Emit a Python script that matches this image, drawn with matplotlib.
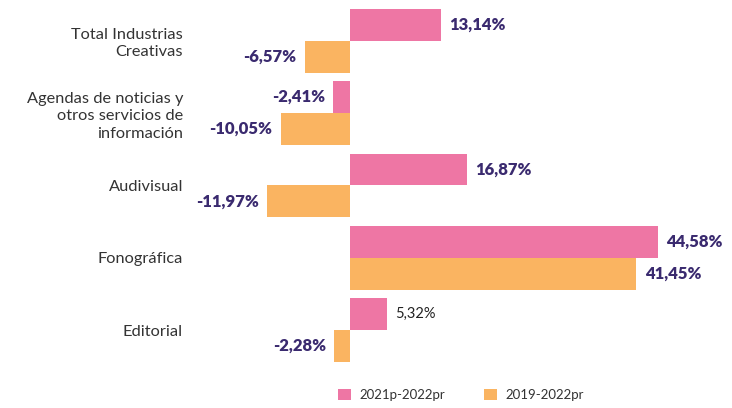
import numpy as np
import matplotlib.pyplot as plt

# Data
categorias = ["Total Industrias\nCreativas",
              "Agendas de noticias y\notros servicios de\ninformación",
              "Audivisual",
              "Fonográfica",
              "Editorial"]
var_2021_2022 = [13.14, -2.41, 16.87, 44.58, 5.32]
var_2019_2022 = [-6.57, -10.05, -11.97, 41.45, -2.28]
serie_1 = "2021p-2022pr"
serie_2 = "2019-2022pr"

rosa = "#EE76A4"
naranja = "#FAB461"
morado = "#3A2A6F"

plt.rcParams['font.family'] = ['Lato', 'DejaVu Sans']

fig = plt.figure(figsize=(7.32, 4.08), dpi=100)
ax = fig.add_axes([190 / 732, 0.102, 1 - 190 / 732, 0.887])

ind = np.arange(len(categorias))
h = 0.44
ax.barh(ind - h / 2, var_2021_2022, height=h, color=rosa, label=serie_1)
ax.barh(ind + h / 2, var_2019_2022, height=h, color=naranja, label=serie_2)

ax.set_xlim(-160 / 6.91, 382 / 6.91)
ax.set_ylim(4.5, -0.5)
ax.set_yticks(ind)
ax.set_yticklabels(categorias, fontsize=11.8, color="#333333", linespacing=1.3,
                   multialignment="right")
ax.tick_params(axis='y', length=0, pad=5)
ax.set_xticks([])
for s in ax.spines.values():
    s.set_visible(False)

def fmt(v):
    return f"{v:.2f}%".replace(".", ",")

for serie, off in ((var_2021_2022, -h / 2), (var_2019_2022, h / 2)):
    for i, v in enumerate(serie):
        bold = not (v == 5.32)
        col = morado if bold else "#222222"
        if v >= 0:
            ax.annotate(fmt(v), (v, i + off), xytext=(6, 0), textcoords="offset points",
                        ha="left", va="center", fontsize=12 if bold else 10.5, color=col,
                        fontweight="heavy" if bold else "normal")
        else:
            ax.annotate(fmt(v), (v, i + off), xytext=(-6, 0), textcoords="offset points",
                        ha="right", va="center", fontsize=12, color=col,
                        fontweight="heavy")

fig.legend(loc="lower left", bbox_to_anchor=(326 / 732, -0.012), ncol=2, frameon=False,
           fontsize=9.5, handlelength=1.0, handleheight=1.0, columnspacing=3.0,
           handletextpad=0.6, labelcolor="#333333")

fig.savefig("out.png", dpi=100)
